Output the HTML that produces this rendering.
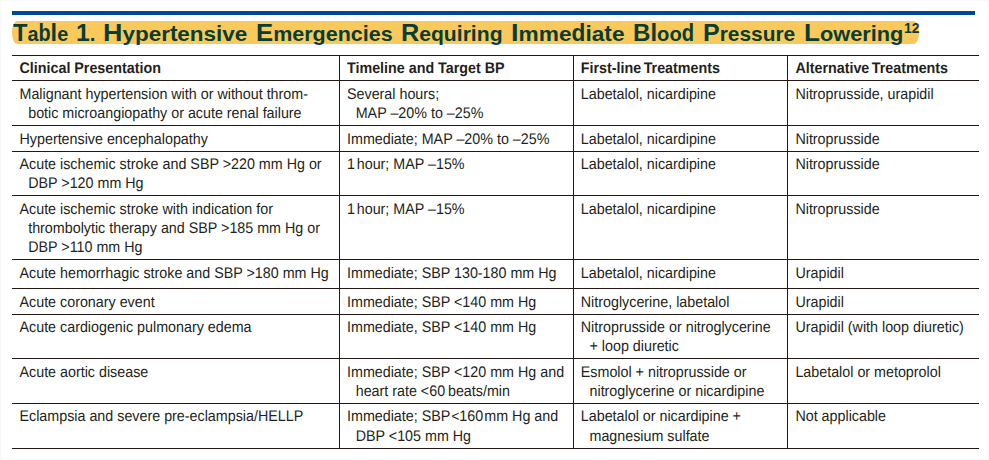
<!DOCTYPE html>
<html><head><meta charset="utf-8"><style>
html,body{margin:0;padding:0;background:#fff;}
body{width:989px;height:460px;position:relative;overflow:hidden;font-family:"Liberation Sans",sans-serif;color:#231f20;}
.h{position:absolute;height:1px;background:#231816;}
.v{position:absolute;width:1px;background:#231816;}
.t{position:absolute;white-space:pre;font-size:14.30px;line-height:18.80px;transform:scale(1.0000,1.0730);transform-origin:0 13.00px;text-rendering:geometricPrecision;}
.b{font-weight:bold;}
.sup{position:absolute;white-space:pre;font-weight:bold;font-size:14px;line-height:16px;}
.title{position:absolute;white-space:pre;font-weight:bold;font-size:20.5px;line-height:30px;transform-origin:0 0;}
.cap{font-size:24.5px} .ll{font-size:24.3px} .st,.sd,.stt{display:inline-block;transform-origin:0 22.10px} .st{transform:scaleY(1.12)} .sd{transform:scaleY(1.18)} .stt{transform:scaleY(1.1)}
</style></head><body>

<div style="position:absolute;left:0;top:0;width:989px;height:1px;background:#f9f9f9"></div>
<div style="position:absolute;left:0;top:0;width:1px;height:460px;background:#f9f9f9"></div>
<div style="position:absolute;left:988px;top:0;width:1px;height:460px;background:#f9f9f9"></div>
<div style="position:absolute;left:0;top:459px;width:989px;height:1px;background:#f9f9f9"></div>
<div style="position:absolute;left:12px;top:11px;width:963px;height:4px;background:#004895"></div>
<div class="title" style="left:13.00px;top:17.50px;color:#0d40a2;transform:scaleX(0.9667)"><span class="cap">T</span>a<span class="sd">b</span><span class="ll">l</span>e</div><div class="title" style="left:76.09px;top:17.50px;color:#0d40a2;transform:scaleX(1.0056)"><span class="cap">1</span>.</div><div class="title" style="left:103.20px;top:17.50px;color:#0d40a2;transform:scaleX(1.0962)"><span class="cap">H</span>yper<span class="stt">t</span>ens<span class="st">i</span>ve</div><div class="title" style="left:255.75px;top:17.50px;color:#0d40a2;transform:scaleX(1.0488)"><span class="cap">E</span>mergenc<span class="st">i</span>es</div><div class="title" style="left:400.77px;top:17.50px;color:#0d40a2;transform:scaleX(1.0299)"><span class="cap">R</span>equ<span class="st">i</span>r<span class="st">i</span>ng</div><div class="title" style="left:511.49px;top:17.50px;color:#0d40a2;transform:scaleX(1.1069)"><span class="cap">I</span>mme<span class="sd">d</span><span class="st">i</span>a<span class="stt">t</span>e</div><div class="title" style="left:633.21px;top:17.50px;color:#0d40a2;transform:scaleX(0.9852)"><span class="cap">B</span><span class="ll">l</span>oo<span class="sd">d</span></div><div class="title" style="left:703.28px;top:17.50px;color:#0d40a2;transform:scaleX(1.0191)"><span class="cap">P</span>ressure</div><div class="title" style="left:803.64px;top:17.50px;color:#0d40a2;transform:scaleX(1.0620)"><span class="cap">L</span>ower<span class="st">i</span>ng</div><div class="sup" style="left:904.00px;top:19.50px;color:#0d40a2">12</div>
<div style="position:absolute;left:12px;top:21px;width:907px;height:23px;background:#f9ca5b;border-radius:5px/11px;overflow:hidden">
<div class="title" style="left:1.00px;top:-3.50px;color:#093c32;transform:scaleX(0.9667)"><span class="cap">T</span>a<span class="sd">b</span><span class="ll">l</span>e</div><div class="title" style="left:64.09px;top:-3.50px;color:#093c32;transform:scaleX(1.0056)"><span class="cap">1</span>.</div><div class="title" style="left:91.20px;top:-3.50px;color:#093c32;transform:scaleX(1.0962)"><span class="cap">H</span>yper<span class="stt">t</span>ens<span class="st">i</span>ve</div><div class="title" style="left:243.75px;top:-3.50px;color:#093c32;transform:scaleX(1.0488)"><span class="cap">E</span>mergenc<span class="st">i</span>es</div><div class="title" style="left:388.77px;top:-3.50px;color:#093c32;transform:scaleX(1.0299)"><span class="cap">R</span>equ<span class="st">i</span>r<span class="st">i</span>ng</div><div class="title" style="left:499.49px;top:-3.50px;color:#093c32;transform:scaleX(1.1069)"><span class="cap">I</span>mme<span class="sd">d</span><span class="st">i</span>a<span class="stt">t</span>e</div><div class="title" style="left:621.21px;top:-3.50px;color:#093c32;transform:scaleX(0.9852)"><span class="cap">B</span><span class="ll">l</span>oo<span class="sd">d</span></div><div class="title" style="left:691.28px;top:-3.50px;color:#093c32;transform:scaleX(1.0191)"><span class="cap">P</span>ressure</div><div class="title" style="left:791.64px;top:-3.50px;color:#093c32;transform:scaleX(1.0620)"><span class="cap">L</span>ower<span class="st">i</span>ng</div><div class="sup" style="left:892.00px;top:-1.50px;color:#093c32">12</div>
</div>
<div class="h" style="left:12px;top:55px;width:967px"></div>
<div class="h" style="left:12px;top:80px;width:967px"></div>
<div class="h" style="left:12px;top:125px;width:967px"></div>
<div class="h" style="left:12px;top:151px;width:967px"></div>
<div class="h" style="left:12px;top:195px;width:967px"></div>
<div class="h" style="left:12px;top:259px;width:967px"></div>
<div class="h" style="left:12px;top:288px;width:967px"></div>
<div class="h" style="left:12px;top:314px;width:967px"></div>
<div class="h" style="left:12px;top:358px;width:967px"></div>
<div class="h" style="left:12px;top:403px;width:967px"></div>
<div class="h" style="left:12px;top:448px;width:967px"></div>
<div class="v" style="left:339px;top:55px;height:393px"></div>
<div class="v" style="left:573px;top:55px;height:393px"></div>
<div class="v" style="left:787px;top:55px;height:393px"></div>
<div class="t b" style="left:19.50px;top:60.00px">Clinical Presentation</div>
<div class="t b" style="left:347.00px;top:60.00px">Timeline and Target BP</div>
<div class="t b" style="left:580.80px;top:60.00px"><span style="word-spacing:-1.5px">First-line Treatments</span></div>
<div class="t b" style="left:795.40px;top:60.00px"><span style="word-spacing:-1.5px">Alternative Treatments</span></div>
<div class="t" style="left:19.50px;top:86.00px">Malignant hypertension with or without throm-</div>
<div class="t" style="left:28.20px;top:105.00px">botic microangiopathy or acute renal failure</div>
<div class="t" style="left:347.00px;top:86.00px">Several hours;</div>
<div class="t" style="left:355.70px;top:105.00px">MAP –20% to –25%</div>
<div class="t" style="left:580.80px;top:86.00px">Labetalol, nicardipine</div>
<div class="t" style="left:795.40px;top:86.00px">Nitroprusside, urapidil</div>
<div class="t" style="left:19.50px;top:131.00px">Hypertensive encephalopathy</div>
<div class="t" style="left:347.00px;top:131.00px">Immediate; MAP –20% to –25%</div>
<div class="t" style="left:580.80px;top:131.00px">Labetalol, nicardipine</div>
<div class="t" style="left:795.40px;top:131.00px">Nitroprusside</div>
<div class="t" style="left:19.50px;top:156.00px">Acute ischemic stroke and SBP &gt;220 mm Hg or</div>
<div class="t" style="left:28.20px;top:175.00px">DBP &gt;120 mm Hg</div>
<div class="t" style="left:347.00px;top:156.00px">1<span style="display:inline-block;width:1.8px"></span>hour; MAP –15%</div>
<div class="t" style="left:580.80px;top:156.00px">Labetalol, nicardipine</div>
<div class="t" style="left:795.40px;top:156.00px">Nitroprusside</div>
<div class="t" style="left:19.50px;top:201.00px">Acute ischemic stroke with indication for</div>
<div class="t" style="left:28.20px;top:220.00px">thrombolytic therapy and SBP &gt;185 mm Hg or</div>
<div class="t" style="left:28.20px;top:239.00px">DBP &gt;110 mm Hg</div>
<div class="t" style="left:347.00px;top:201.00px">1<span style="display:inline-block;width:1.8px"></span>hour; MAP –15%</div>
<div class="t" style="left:580.80px;top:201.00px">Labetalol, nicardipine</div>
<div class="t" style="left:795.40px;top:201.00px">Nitroprusside</div>
<div class="t" style="left:19.50px;top:265.00px">Acute hemorrhagic stroke and SBP &gt;180 mm Hg</div>
<div class="t" style="left:347.00px;top:265.00px">Immediate; SBP 130-180 mm Hg</div>
<div class="t" style="left:580.80px;top:265.00px">Labetalol, nicardipine</div>
<div class="t" style="left:795.40px;top:265.00px">Urapidil</div>
<div class="t" style="left:19.50px;top:294.00px">Acute coronary event</div>
<div class="t" style="left:347.00px;top:294.00px">Immediate; SBP &lt;140 mm Hg</div>
<div class="t" style="left:580.80px;top:294.00px">Nitroglycerine, labetalol</div>
<div class="t" style="left:795.40px;top:294.00px">Urapidil</div>
<div class="t" style="left:19.50px;top:319.00px">Acute cardiogenic pulmonary edema</div>
<div class="t" style="left:347.00px;top:319.00px">Immediate, SBP &lt;140 mm Hg</div>
<div class="t" style="left:580.80px;top:319.00px">Nitroprusside or nitroglycerine</div>
<div class="t" style="left:589.50px;top:338.00px">+ loop diuretic</div>
<div class="t" style="left:795.40px;top:319.00px">Urapidil (with loop diuretic)</div>
<div class="t" style="left:19.50px;top:364.00px">Acute aortic disease</div>
<div class="t" style="left:347.00px;top:364.00px">Immediate; SBP &lt;120 mm Hg and</div>
<div class="t" style="left:355.70px;top:383.00px">heart rate &lt;60 beats/min</div>
<div class="t" style="left:580.80px;top:364.00px">Esmolol + nitroprusside or</div>
<div class="t" style="left:589.50px;top:383.00px">nitroglycerine or nicardipine</div>
<div class="t" style="left:795.40px;top:364.00px">Labetalol or metoprolol</div>
<div class="t" style="left:19.50px;top:408.00px">Eclampsia and severe pre-eclampsia/HELLP</div>
<div class="t" style="left:347.00px;top:408.00px">Immediate; SBP <span style="font-size:13.3px">&lt;</span>160 mm Hg and</div>
<div class="t" style="left:355.70px;top:428.00px">DBP &lt;105 mm Hg</div>
<div class="t" style="left:580.80px;top:408.00px">Labetalol or nicardipine +</div>
<div class="t" style="left:589.50px;top:428.00px">magnesium sulfate</div>
<div class="t" style="left:795.40px;top:408.00px">Not applicable</div>
</body></html>
